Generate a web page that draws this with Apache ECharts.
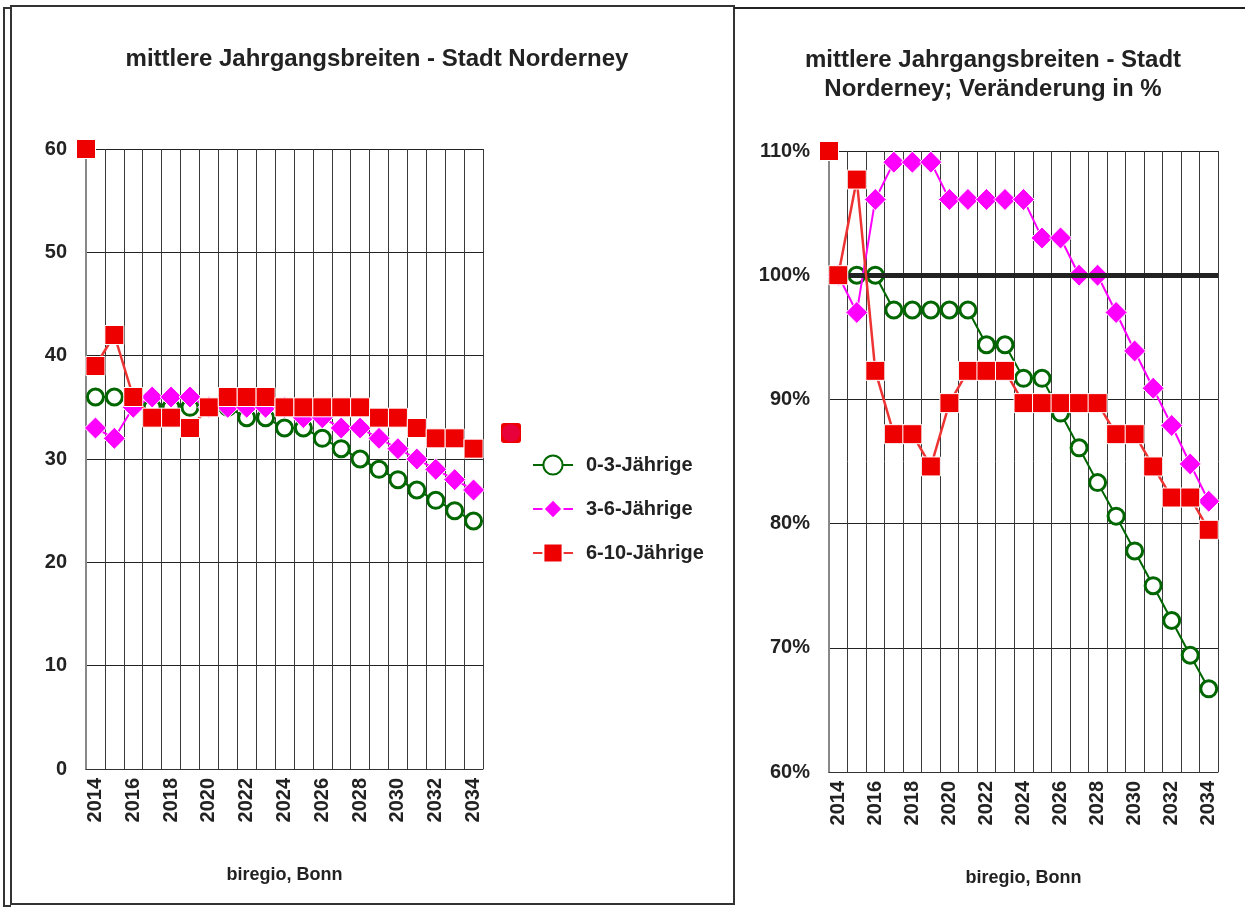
<!DOCTYPE html>
<html><head><meta charset="utf-8">
<script src="https://cdn.jsdelivr.net/npm/echarts@6/dist/echarts.min.js"></script>
<style>html,body{margin:0;padding:0;background:#fff}#c{width:1245px;height:907px}</style>
</head><body><div id="c"></div>
<script>
// ---- data ----
const years = ['2014','2015','2016','2017','2018','2019','2020','2021','2022','2023','2024','2025','2026','2027','2028','2029','2030','2031','2032','2033','2034'];
const seriesNames = ['0-3-Jährige', '3-6-Jährige', '6-10-Jährige'];
// left chart: average cohort size
const abs03  = [36,36,36,35,35,35,35,35,34,34,33,33,32,31,30,29,28,27,26,25,24];
const abs36  = [33,32,35,36,36,36,35,35,35,35,35,34,34,33,33,32,31,30,29,28,27];
const abs610 = [39,42,36,34,34,33,35,36,36,36,35,35,35,35,35,34,34,33,32,32,31];
// right chart: change in %
const pct03  = [100,100,100,97.2,97.2,97.2,97.2,97.2,94.4,94.4,91.7,91.7,88.9,86.1,83.3,80.6,77.8,75.0,72.2,69.4,66.7];
const pct36  = [100,97.0,106.1,109.1,109.1,109.1,106.1,106.1,106.1,106.1,106.1,103.0,103.0,100,100,97.0,93.9,90.9,87.9,84.8,81.8];
const pct610 = [100,107.7,92.3,87.2,87.2,84.6,89.7,92.3,92.3,92.3,89.7,89.7,89.7,89.7,89.7,87.2,87.2,84.6,82.1,82.1,79.5];
// stray marker at left axis corner (value axis position, value)
const leftStray = [[0, 60]];
const rightStray = [[0, 110]];
const refLevel = 100;
const leftAxis = {min: 0, max: 60, step: 10};
const rightAxis = {min: 60, max: 110, step: 10};
const sourceNote = 'biregio, Bonn';
const titleLeft = 'mittlere Jahrgangsbreiten - Stadt Norderney';
const titleRight = 'mittlere Jahrgangsbreiten - Stadt\nNorderney; Veränderung in %';

// ---- styling ----
const FONT = '"Liberation Sans", Arial, sans-serif';
const GREEN = '#006600', PINK = '#FF00FF', RED = '#EE0000', REDLINE = '#EE3333';

function catAxis(grid) {
  return {
    type: 'category', gridIndex: grid, data: years, boundaryGap: true,
    axisTick: {show: false},
    axisLine: {show: true, lineStyle: {color: '#333', width: 1}},
    axisLabel: {interval: 1, rotate: 90, margin: 9, fontSize: 20, fontWeight: 'bold', color: '#222', fontFamily: FONT},
    splitLine: {show: true, interval: 0, lineStyle: {color: '#3a3a3a', width: 1}},
    name: sourceNote, nameLocation: 'middle', nameGap: 97,
    nameTextStyle: {fontSize: 18, fontWeight: 'bold', color: '#222', fontFamily: FONT}
  };
}
function hiddenX(grid) {
  return {type: 'value', gridIndex: grid, min: 0, max: years.length, show: false};
}
function valAxis(grid, r, pct) {
  return {
    type: 'value', gridIndex: grid, min: r.min, max: r.max, interval: r.step,
    axisLine: {show: true, lineStyle: {color: '#888', width: 2}},
    axisTick: {show: false},
    axisLabel: {margin: 19, fontSize: 20, fontWeight: 'bold', color: '#222', fontFamily: FONT,
      formatter: pct ? '{value}%' : '{value}'},
    splitLine: {show: true, lineStyle: {color: '#222', width: 1}}
  };
}
function lineSeries(name, data, xi, yi, kind, sizes, z) {
  const base = {
    name, type: 'line', data, xAxisIndex: xi, yAxisIndex: yi, z,
    animation: false, showAllSymbol: true, symbolKeepAspect: true
  };
  if (kind === 0) {
    Object.assign(base, {symbol: 'circle', symbolSize: sizes[0],
      itemStyle: {color: '#fff', borderColor: GREEN, borderWidth: 3, opacity: 1},
      lineStyle: {color: GREEN, width: 2}});
  } else if (kind === 1) {
    Object.assign(base, {symbol: 'diamond', symbolSize: sizes[1],
      itemStyle: {color: PINK, borderColor: '#fff', borderWidth: 1, opacity: 1},
      lineStyle: {color: PINK, width: 2}});
  } else {
    Object.assign(base, {symbol: 'rect', symbolSize: sizes[2],
      itemStyle: {color: RED, borderColor: '#fff', borderWidth: 1, opacity: 1},
      lineStyle: {color: REDLINE, width: 2.5}});
  }
  return base;
}

const chart = echarts.init(document.getElementById('c'), null, {renderer: 'canvas'});
const sizesL = [16, 22, 19];
const sizesR = [16, 22, 19];

const option = {
  backgroundColor: '#fff',
  animation: false,
  textStyle: {fontFamily: FONT},
  title: [
    {text: titleLeft, left: 372, top: 42, textAlign: 'center',
      textStyle: {fontSize: 24, fontWeight: 'bold', color: '#222', fontFamily: FONT}},
    {text: titleRight, left: 988, top: 41, textAlign: 'center',
      textStyle: {fontSize: 24, fontWeight: 'bold', color: '#222', fontFamily: FONT, lineHeight: 29}}
  ],
  legend: {
    data: seriesNames, orient: 'vertical', left: 527, top: 448,
    itemWidth: 40, itemHeight: 24, itemGap: 20,
    textStyle: {fontSize: 20, fontWeight: 'bold', color: '#222', fontFamily: FONT, padding: [0, 0, 0, 8], height: 24, lineHeight: 24},
    selectedMode: false
  },
  grid: [
    {left: 86, top: 149, width: 397, height: 620},
    {left: 829, top: 151, width: 389, height: 621}
  ],
  xAxis: [catAxis(0), hiddenX(0), catAxis(1), hiddenX(1)],
  yAxis: [valAxis(0, leftAxis, false), valAxis(1, rightAxis, true)],
  series: [
    lineSeries(seriesNames[0], abs03, 0, 0, 0, sizesL, 3),
    lineSeries(seriesNames[1], abs36, 0, 0, 1, sizesL, 4),
    lineSeries(seriesNames[2], abs610, 0, 0, 2, sizesL, 5),
    {type: 'scatter', xAxisIndex: 1, yAxisIndex: 0, data: leftStray, symbol: 'rect', symbolSize: 19,
      itemStyle: {color: RED, borderColor: '#fff', borderWidth: 1, opacity: 1}, z: 6, silent: true},
    // reference line at 100 %
    {type: 'line', xAxisIndex: 2, yAxisIndex: 1, data: [], z: 2, silent: true,
      markLine: {silent: true, symbol: 'none', animation: false, label: {show: false},
        lineStyle: {color: '#222', width: 5, type: 'solid'}, data: [{yAxis: refLevel}]}},
    lineSeries(seriesNames[0], pct03, 2, 1, 0, sizesR, 3),
    lineSeries(seriesNames[1], pct36, 2, 1, 1, sizesR, 4),
    lineSeries(seriesNames[2], pct610, 2, 1, 2, sizesR, 5),
    {type: 'scatter', xAxisIndex: 3, yAxisIndex: 1, data: rightStray, symbol: 'rect', symbolSize: 19,
      itemStyle: {color: RED, borderColor: '#fff', borderWidth: 1, opacity: 1}, z: 6, silent: true}
  ],
  graphic: [
    // frames
    {type: 'rect', shape: {x: 11, y: 6, width: 723, height: 898}, style: {fill: 'none', stroke: '#333', lineWidth: 2}, z: 100},
    {type: 'polyline', shape: {points: [[11, 8], [4, 8], [4, 906], [11, 906]]}, style: {fill: 'none', stroke: '#333', lineWidth: 2}, z: 100},
    {type: 'line', shape: {x1: 734, y1: 8, x2: 1245, y2: 8}, style: {stroke: '#222', lineWidth: 2}, z: 100},
    // stray marker beside legend
    {type: 'rect', shape: {x: 501, y: 423, width: 20, height: 20, r: 3}, style: {fill: RED}, z: 100},
    {type: 'circle', shape: {cx: 511, cy: 433, r: 9}, style: {fill: '#E8003A'}, z: 101}
  ]
};
chart.setOption(option);
</script>
</body></html>
